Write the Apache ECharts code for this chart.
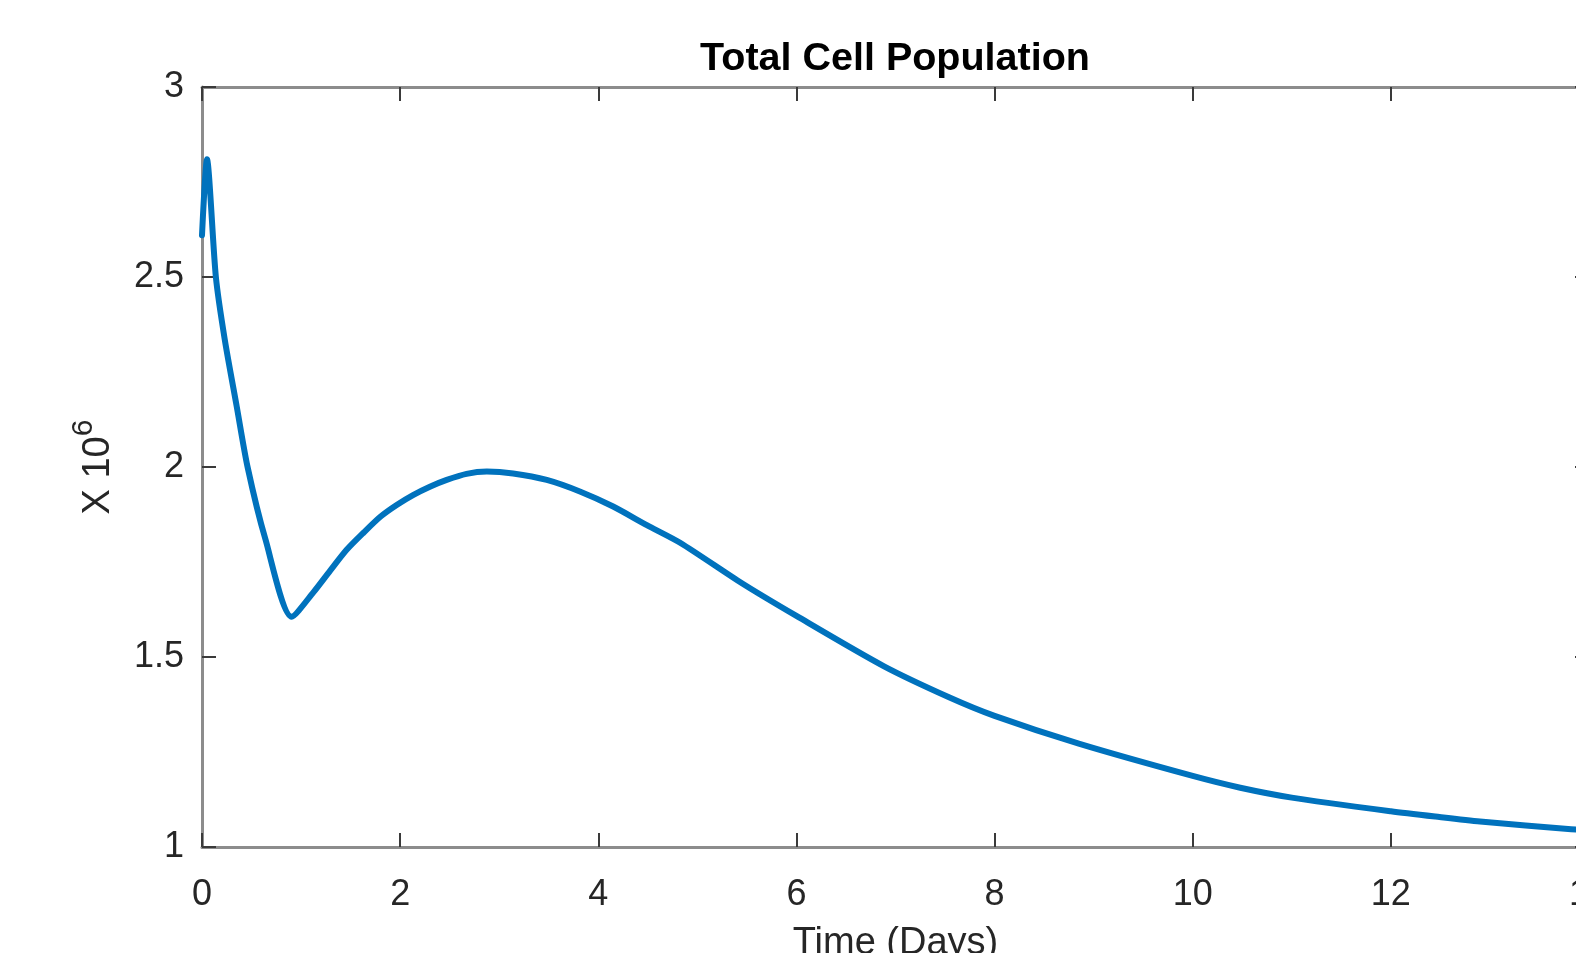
<!DOCTYPE html>
<html>
<head>
<meta charset="utf-8">
<script src="https://cdn.jsdelivr.net/npm/echarts@6/dist/echarts.min.js"></script>
<style>
html,body{margin:0;padding:0;background:#fff;}
#chart{width:1576px;height:953px;}
</style>
</head>
<body>
<div id="chart"></div>
<script>
// Data
const timeDays = [0, 0.05, 0.14, 0.23, 0.35, 0.46, 0.64, 0.905, 1.124, 1.29, 1.46, 1.63, 1.80, 1.965, 2.13, 2.30, 2.47, 2.67, 2.875, 3.14, 3.48, 3.82, 4.15, 4.49, 4.83, 5.45, 6.0, 6.88, 7.54, 8.0, 8.85, 10.0, 10.48, 11.0, 12.0, 12.45, 12.9, 13.82, 14];
const population = [2.61, 2.81, 2.50, 2.335, 2.16, 2.0, 1.81, 1.606, 1.67, 1.726, 1.782, 1.827, 1.869, 1.90, 1.926, 1.948, 1.966, 1.982, 1.988, 1.983, 1.966, 1.935, 1.896, 1.847, 1.80, 1.694, 1.608, 1.476, 1.394, 1.345, 1.272, 1.187, 1.156, 1.130, 1.094, 1.080, 1.067, 1.047, 1.043];
const xTicks = [0, 2, 4, 6, 8, 10, 12, 14];
const yTicks = [1, 1.5, 2, 2.5, 3];
const titleText = 'Total Cell Population';
const xLabel = 'Time (Days)';

const seriesData = timeDays.map((t, i) => [t, population[i]]);
const FONT = 'Liberation Sans, Arial, Helvetica, sans-serif';
const TXT = '#262626';
const AXIS = '#8c8c8c';
const TICK = '#3a3a3a';

const chart = echarts.init(document.getElementById('chart'), null, {renderer: 'canvas'});
const option = {
  backgroundColor: '#ffffff',
  animation: false,
  title: {
    text: titleText,
    left: 890,
    textAlign: 'center',
    top: 34,
    textStyle: {fontFamily: FONT, fontSize: 39.5, fontWeight: 'bold', color: '#000'}
  },
  grid: {left: 202, top: 87, width: 1387, height: 760, containLabel: false, outerBoundsMode: 'none'},
  xAxis: [{
    type: 'value',
    min: xTicks[0], max: xTicks[xTicks.length - 1], interval: 2,
    position: 'bottom',
    name: xLabel,
    nameLocation: 'middle',
    nameGap: 78,
    nameTextStyle: {fontFamily: FONT, fontSize: 38, color: TXT},
    axisLine: {show: true, onZero: false, lineStyle: {color: AXIS, width: 3}},
    axisTick: {show: true, inside: true, length: 14, lineStyle: {color: TICK, width: 2}},
    axisLabel: {fontFamily: FONT, fontSize: 36, color: TXT, margin: 30, showMaxLabel: true, hideOverlap: false},
    splitLine: {show: false}
  }, {
    type: 'value',
    min: xTicks[0], max: xTicks[xTicks.length - 1], interval: 2,
    position: 'top',
    axisLine: {show: true, onZero: false, lineStyle: {color: AXIS, width: 3}},
    axisTick: {show: true, inside: true, length: 14, lineStyle: {color: TICK, width: 2}},
    axisLabel: {show: false},
    splitLine: {show: false}
  }],
  yAxis: [{
    type: 'value',
    min: yTicks[0], max: yTicks[yTicks.length - 1], interval: 0.5,
    position: 'left',
    name: '{a|X 10}{b|6}',
    nameLocation: 'middle',
    nameRotate: 90,
    nameGap: 73,
    nameTextStyle: {
      fontFamily: FONT, color: TXT,
      rich: {
        a: {fontFamily: FONT, fontSize: 38, lineHeight: 60, verticalAlign: 'middle', color: TXT},
        b: {fontFamily: FONT, fontSize: 30, lineHeight: 30, verticalAlign: 'top', color: TXT}
      }
    },
    axisLine: {show: true, onZero: false, lineStyle: {color: AXIS, width: 3}},
    axisTick: {show: true, inside: true, length: 14, lineStyle: {color: TICK, width: 2}},
    axisLabel: {fontFamily: FONT, fontSize: 36, color: TXT, margin: 18, padding: [7, 0, 0, 0]},
    splitLine: {show: false}
  }, {
    type: 'value',
    min: yTicks[0], max: yTicks[yTicks.length - 1], interval: 0.5,
    position: 'right',
    axisLine: {show: true, onZero: false, lineStyle: {color: AXIS, width: 3}},
    axisTick: {show: true, inside: true, length: 14, lineStyle: {color: TICK, width: 2}},
    axisLabel: {show: false},
    splitLine: {show: false}
  }],
  series: [{
    type: 'line',
    data: seriesData,
    xAxisIndex: 0,
    yAxisIndex: 0,
    showSymbol: false,
    smooth: 0.25,
    lineStyle: {color: '#0072BD', width: 6, cap: 'round', join: 'round'},
    clip: true
  }]
};
chart.setOption(option);
</script>
</body>
</html>
